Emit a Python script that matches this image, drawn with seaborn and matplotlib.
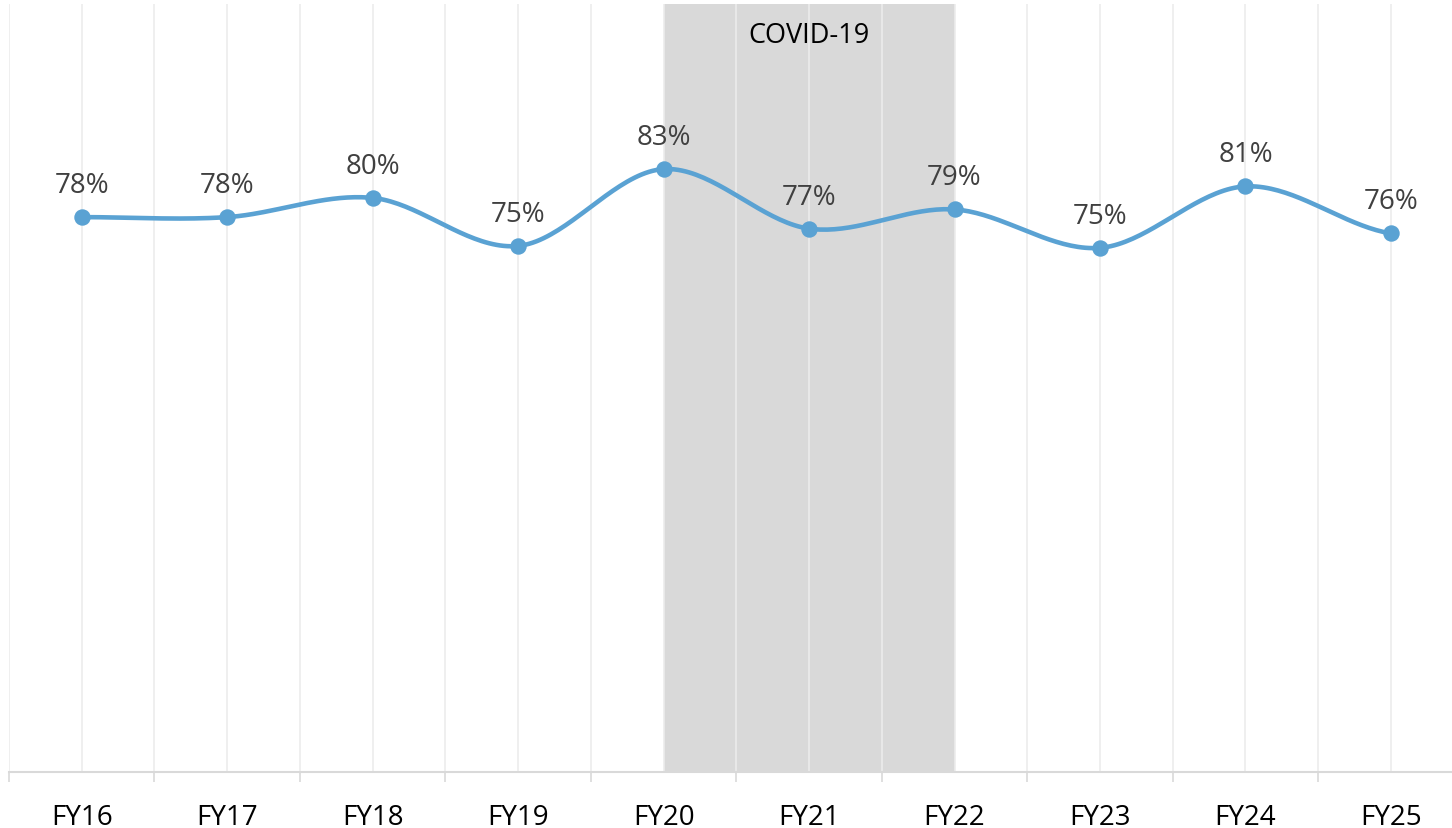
import matplotlib
matplotlib.use("Agg")
import matplotlib.pyplot as plt
import numpy as np
import seaborn as sns

# data
years = ["FY16", "FY17", "FY18", "FY19", "FY20", "FY21", "FY22", "FY23", "FY24", "FY25"]
share = [77.8, 77.8, 79.8, 74.8, 82.8, 76.6, 78.6, 74.6, 81.0, 76.1]
covid_start = "FY20"
covid_end = "FY22"
covid_label = "COVID-19"

sns.set_theme(style="white")
plt.rcParams['font.family'] = ['Open Sans', 'DejaVu Sans']

x = np.arange(len(years))
y = np.array(share)


# smooth the line the way Excel does (Catmull-Rom through the points)
def smooth(xp, yp, n=40):
    xs, ys = [], []
    for i in range(len(xp) - 1):
        p0 = yp[i - 1] if i > 0 else yp[i]
        p3 = yp[i + 2] if i + 2 < len(yp) else yp[i + 1]
        p1, p2 = yp[i], yp[i + 1]
        t = np.linspace(0, 1, n, endpoint=False)
        m1 = (p2 - p0) / 2
        m2 = (p3 - p1) / 2
        h00 = 2 * t**3 - 3 * t**2 + 1
        h10 = t**3 - 2 * t**2 + t
        h01 = -2 * t**3 + 3 * t**2
        h11 = t**3 - t**2
        xs.append(xp[i] + t * (xp[i + 1] - xp[i]))
        ys.append(h00 * p1 + h10 * m1 + h01 * p2 + h11 * m2)
    xs.append([xp[-1]])
    ys.append([yp[-1]])
    return np.concatenate(xs), np.concatenate(ys)


fig = plt.figure(figsize=(14.52, 8.29), dpi=100)
ax = fig.add_axes([0.0062, 0.0675, 0.9938, 0.9265])

blue = "#5aa2d3"

ax.axvspan(years.index(covid_start), years.index(covid_end), color="#d9d9d9", zorder=0, lw=0)

xs, ys = smooth(x, y)
sns.lineplot(x=xs, y=ys, ax=ax, color=blue, linewidth=3.3, sort=False, zorder=3)
sns.scatterplot(x=x, y=y, ax=ax, color=blue, s=140, edgecolor=blue, linewidth=0, zorder=4)

for xi, yi in zip(x, y):
    ax.annotate(f"{yi:.0f}%", (xi, yi), xytext=(0, 18), textcoords="offset points",
                ha="center", va="baseline", fontsize=20, color="#404040")

ax.text((years.index(covid_start) + years.index(covid_end)) / 2, 96.8, covid_label,
        ha="center", va="center", fontsize=19.5, color="black")

# boundaries get tick marks, centres get labels
ax.set_xticks(np.arange(-0.5, 10, 1))
ax.set_xticklabels([])
ax.set_xticks(x, minor=True)
ax.set_xticklabels(years, minor=True, fontsize=20, color="black")
ax.tick_params(axis="x", which="major", length=7, width=1.2, color="#d9d9d9", direction="out", bottom=True)
ax.tick_params(axis="x", which="minor", length=0, pad=22)
ax.set_yticks([])

# limits after the ticks, otherwise set_xticks widens them again
ax.set_xlim(-0.5, 9.42)
ax.set_ylim(20, 100)

ax.set_axisbelow(True)
ax.grid(True, axis="x", which="both", color="#ececec", linewidth=1.2)
ax.grid(False, axis="y")

for side in ["top", "left", "right"]:
    ax.spines[side].set_visible(False)
ax.spines["bottom"].set_color("#d9d9d9")
ax.spines["bottom"].set_linewidth(1.5)

plt.savefig("out.png", dpi=100)
